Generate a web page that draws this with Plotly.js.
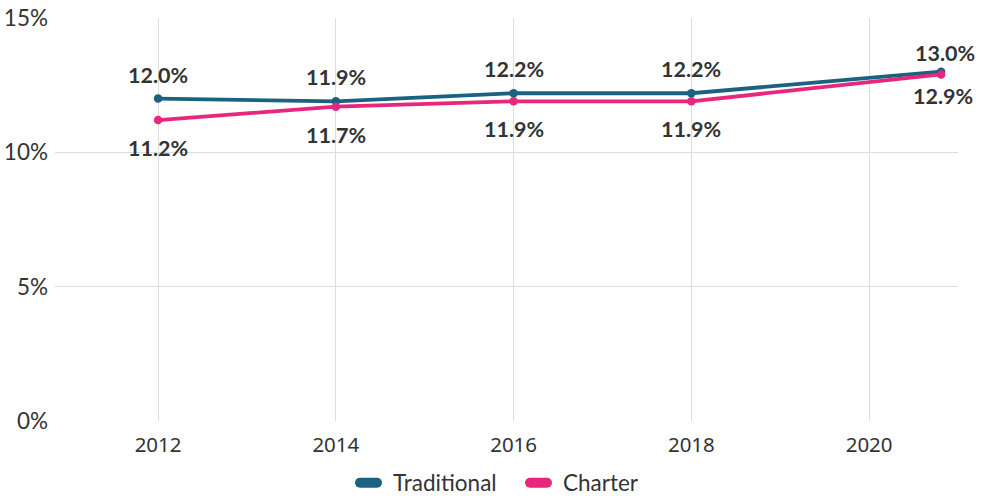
<!DOCTYPE html>
<html>
<head>
<meta charset="utf-8">
<script src="https://cdn.plot.ly/plotly-3.0.1.min.js"></script>
<style>
html,body{margin:0;padding:0;background:#fff;}
#chart{width:981px;height:498px;}
.legendlines path{stroke-linecap:round;}
</style>
</head>
<body>
<div id="chart"></div>
<script>
// Data
const years = [2012, 2014, 2016, 2018, 2020.81];
const traditional = [12.0, 11.9, 12.2, 12.2, 13.0];
const charter = [11.2, 11.7, 11.9, 11.9, 12.9];
const seriesNames = ['Traditional', 'Charter'];
const xTickVals = [2012, 2014, 2016, 2018, 2020];
const xTickText = ['2012', '2014', '2016', '2018', '2020'];
const yTickVals = [0, 5, 10, 15];
const yTickText = ['0%', '5%', '10%', '15%'];

const colors = ['#1a6280', '#e8267c'];
const textColor = '#333333';
const fontFamily = 'Lato, "Noto Sans", sans-serif';

function trace(y, name, color) {
  return {
    x: years, y: y, name: name, type: 'scatter', mode: 'lines+markers',
    line: {color: color, width: 3.8},
    marker: {color: color, size: 8.5},
    showlegend: false, hoverinfo: 'skip'
  };
}
function legendTrace(name, color) {
  return {
    x: [null], y: [null], name: name, type: 'scatter', mode: 'lines',
    line: {color: color, width: 10.5}, showlegend: true, hoverinfo: 'skip'
  };
}

const data = [
  trace(traditional, seriesNames[0], colors[0]),
  trace(charter, seriesNames[1], colors[1]),
  legendTrace(seriesNames[0], colors[0]),
  legendTrace(seriesNames[1], colors[1])
];

const annotations = [];
years.forEach((x, i) => {
  const last = i === years.length - 1;
  annotations.push({
    x: x, y: traditional[i], xref: 'x', yref: 'y',
    text: '<b>' + traditional[i].toFixed(1) + '%</b>',
    showarrow: false, yanchor: 'middle', xanchor: 'center',
    yshift: last ? 19 : 24, xshift: last ? 4 : 0,
    font: {family: fontFamily, size: 21.5, color: textColor}
  });
  annotations.push({
    x: x, y: charter[i], xref: 'x', yref: 'y',
    text: '<b>' + charter[i].toFixed(1) + '%</b>',
    showarrow: false, yanchor: 'middle', xanchor: 'center',
    yshift: last ? -22 : -28, xshift: last ? 2 : 0,
    font: {family: fontFamily, size: 21.5, color: textColor}
  });
});

const layout = {
  width: 981, height: 498,
  margin: {l: 55, r: 23, t: 18, b: 77},
  paper_bgcolor: '#ffffff', plot_bgcolor: '#ffffff',
  showlegend: true,
  legend: {
    orientation: 'h', x: 0.33, xanchor: 'left',
    yref: 'container', y: 0.03, yanchor: 'middle',
    font: {family: fontFamily, size: 22.5, color: textColor},
    entrywidth: 125, entrywidthmode: 'pixels', traceorder: 'normal'
  },
  xaxis: {
    range: [2010.84, 2021.0],
    tickmode: 'array', tickvals: xTickVals, ticktext: xTickText,
    showgrid: true, gridcolor: '#dddddd', gridwidth: 1,
    zeroline: false, showline: false, ticks: '', ticklabelstandoff: 9,
    tickfont: {family: '"Noto Sans", sans-serif', size: 20.5, color: textColor},
    fixedrange: true
  },
  yaxis: {
    range: [0, 15],
    tickmode: 'array', tickvals: yTickVals, ticktext: yTickText,
    showgrid: true, gridcolor: '#dddddd', gridwidth: 1,
    zeroline: false, showline: false, ticks: '', ticklabelstandoff: 6,
    tickfont: {family: fontFamily, size: 22.5, color: textColor},
    fixedrange: true
  },
  annotations: annotations,
  hovermode: false
};

Plotly.newPlot('chart', data, layout, {displayModeBar: false, staticPlot: true}).then(gd => {
  gd.querySelectorAll('.legendlines path').forEach(p => p.setAttribute('d', 'M7,0h17'));
});
</script>
</body>
</html>
